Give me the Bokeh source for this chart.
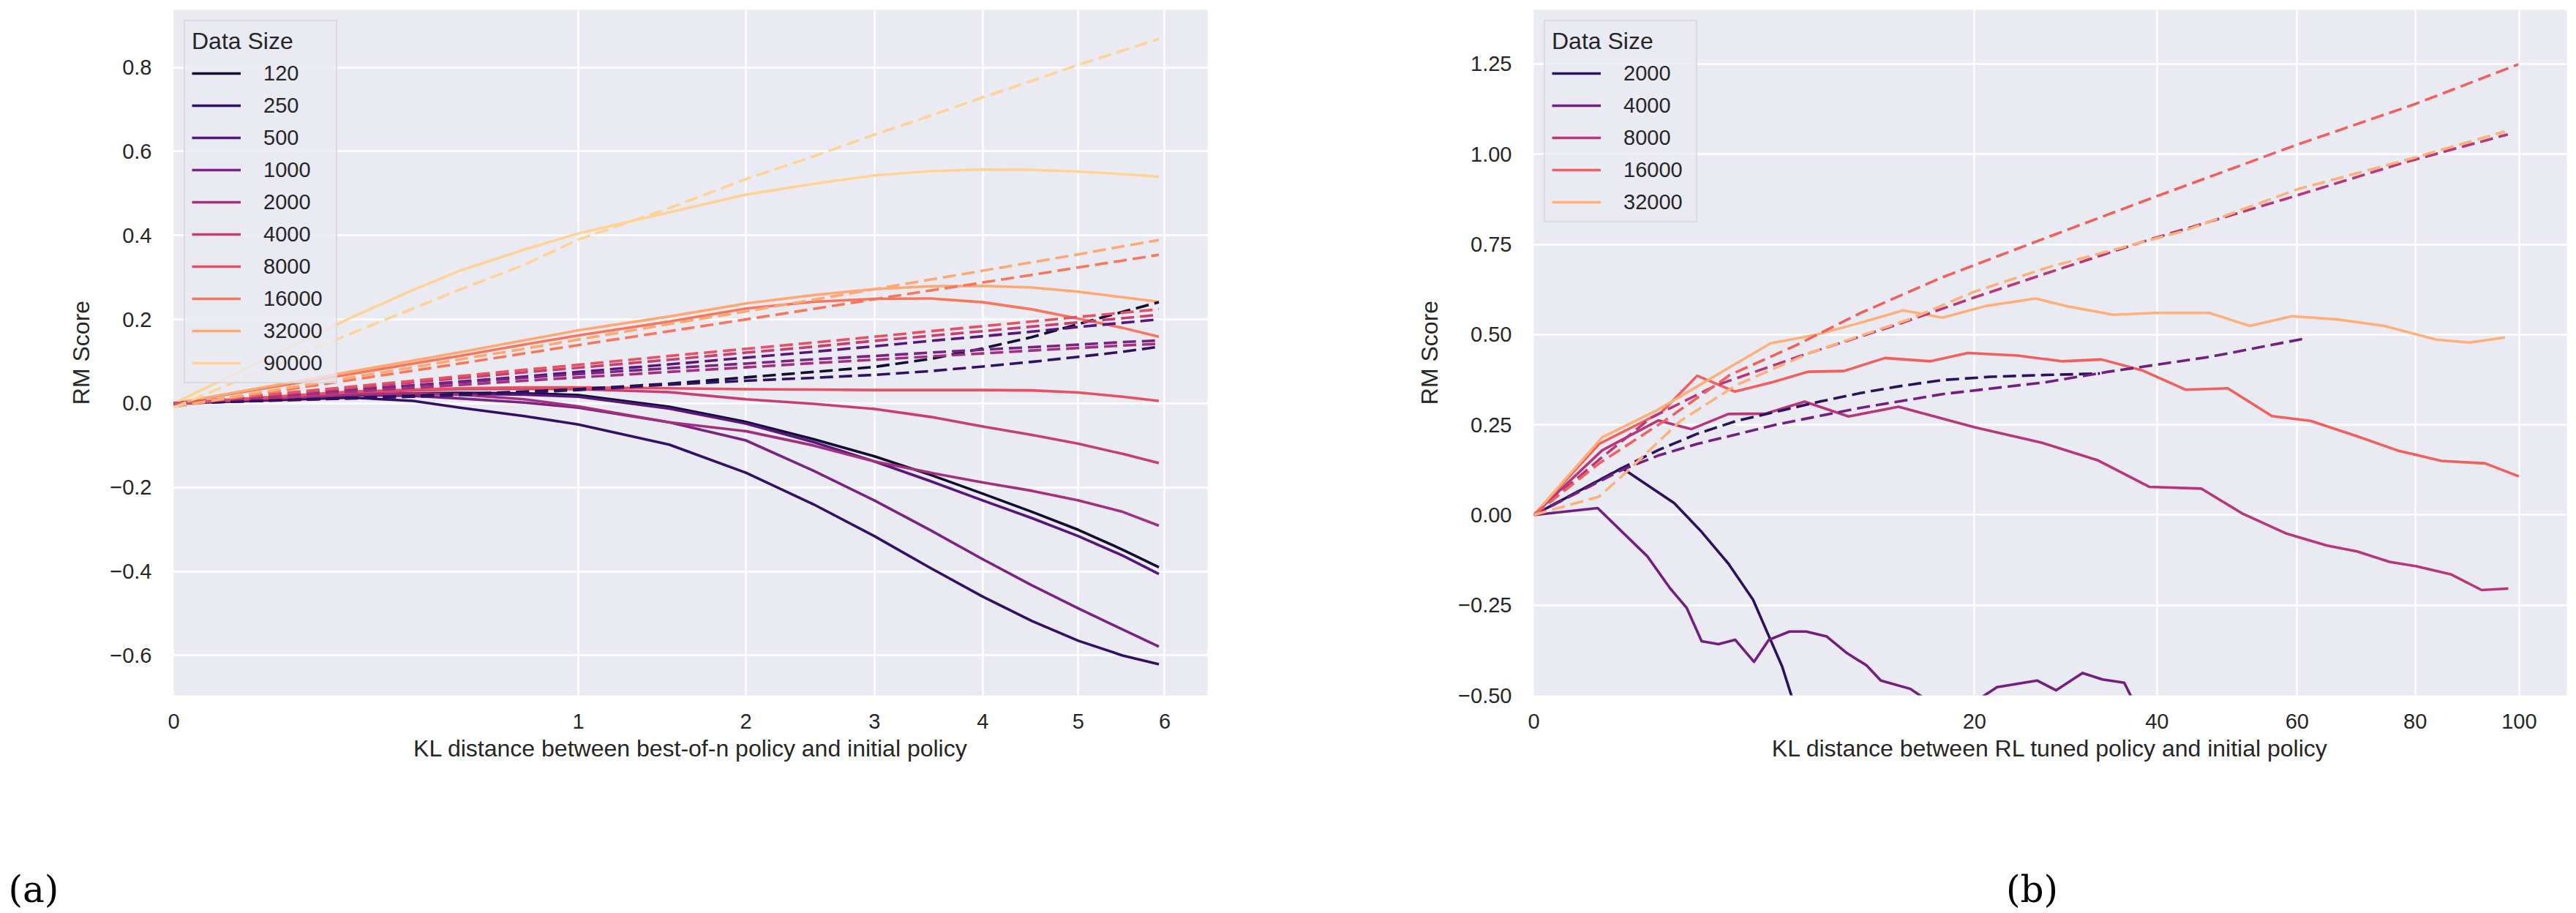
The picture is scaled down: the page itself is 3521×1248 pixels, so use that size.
import numpy as np
from bokeh.embed import file_html
from bokeh.layouts import column, row
from bokeh.models import (ColumnDataSource, CustomJSTickFormatter, CustomJSTransform,
                          FixedTicker, Label, Legend, LegendItem, Range1d)
from bokeh.plotting import figure
from bokeh.resources import INLINE
from bokeh.transform import transform

# ---------------------------------------------------------------------------
# (a) best-of-n sampling: RM score against KL(best-of-n || initial policy)
# ---------------------------------------------------------------------------
BON_SIZES = ["120", "250", "500", "1000", "2000", "4000", "8000", "16000", "32000", "90000"]
BON_COLORS = ["#120d31", "#331067", "#57157e", "#7b2382", "#a3307e",
              "#c83e73", "#e75263", "#f8765c", "#fea873", "#fed395"]
BON_KL = [0, 0.193, 0.35, 0.5, 0.75, 1.0, 1.5, 2.0, 2.5, 3.0, 3.5, 4.0, 4.5, 5.0, 5.5, 5.93]

# solid lines
BON_GOLD_120 = [0.0, 0.020, 0.024, 0.025, 0.024, 0.020, -0.008, -0.044, -0.085, -0.126, -0.170, -0.215, -0.258, -0.301, -0.348, -0.390]
BON_GOLD_250 = [0.0, 0.014, 0.006, -0.010, -0.030, -0.050, -0.098, -0.165, -0.240, -0.316, -0.392, -0.460, -0.518, -0.565, -0.600, -0.621]
BON_GOLD_500 = [0.0, 0.019, 0.022, 0.023, 0.021, 0.016, -0.012, -0.048, -0.092, -0.138, -0.185, -0.231, -0.273, -0.316, -0.362, -0.406]
BON_GOLD_1000 = [0.0, 0.020, 0.018, 0.012, 0.002, -0.010, -0.045, -0.088, -0.160, -0.231, -0.302, -0.371, -0.433, -0.488, -0.538, -0.579]
BON_GOLD_2000 = [0.0, 0.022, 0.024, 0.021, 0.010, -0.007, -0.045, -0.066, -0.100, -0.138, -0.165, -0.188, -0.208, -0.231, -0.258, -0.291]
BON_GOLD_4000 = [0.0, 0.026, 0.031, 0.034, 0.035, 0.034, 0.027, 0.010, -0.001, -0.013, -0.032, -0.055, -0.075, -0.096, -0.120, -0.142]
BON_GOLD_8000 = [0.0, 0.028, 0.033, 0.036, 0.038, 0.038, 0.036, 0.034, 0.033, 0.032, 0.032, 0.032, 0.031, 0.026, 0.016, 0.006]
BON_GOLD_16000 = [0.0, 0.070, 0.095, 0.113, 0.140, 0.162, 0.195, 0.226, 0.242, 0.249, 0.250, 0.241, 0.224, 0.202, 0.180, 0.159]
BON_GOLD_32000 = [0.0, 0.076, 0.102, 0.122, 0.150, 0.174, 0.207, 0.238, 0.258, 0.272, 0.279, 0.280, 0.276, 0.266, 0.253, 0.242]
BON_GOLD_90000 = [0.0, 0.205, 0.270, 0.316, 0.366, 0.405, 0.455, 0.497, 0.523, 0.543, 0.553, 0.557, 0.556, 0.552, 0.546, 0.540]

# dashed lines
BON_PROXY_120 = [0.0, 0.013, 0.018, 0.022, 0.028, 0.034, 0.047, 0.062, 0.075, 0.087, 0.106, 0.131, 0.158, 0.189, 0.218, 0.241]
BON_PROXY_250 = [0.0, 0.012, 0.016, 0.020, 0.026, 0.032, 0.045, 0.054, 0.061, 0.068, 0.077, 0.088, 0.099, 0.111, 0.123, 0.135]
BON_PROXY_500 = [0.0, 0.032, 0.043, 0.052, 0.064, 0.075, 0.093, 0.109, 0.123, 0.136, 0.149, 0.160, 0.171, 0.182, 0.192, 0.200]
BON_PROXY_1000 = [0.0, 0.032, 0.043, 0.050, 0.061, 0.070, 0.084, 0.095, 0.105, 0.113, 0.121, 0.128, 0.134, 0.140, 0.146, 0.150]
BON_PROXY_2000 = [0.0, 0.028, 0.037, 0.044, 0.054, 0.062, 0.075, 0.086, 0.096, 0.104, 0.112, 0.119, 0.126, 0.132, 0.138, 0.142]
BON_PROXY_4000 = [0.0, 0.037, 0.050, 0.060, 0.074, 0.085, 0.104, 0.121, 0.135, 0.149, 0.161, 0.172, 0.183, 0.193, 0.203, 0.211]
BON_PROXY_8000 = [0.0, 0.040, 0.054, 0.065, 0.080, 0.092, 0.113, 0.130, 0.145, 0.159, 0.172, 0.184, 0.195, 0.206, 0.216, 0.224]
BON_PROXY_16000 = [-0.008, 0.056, 0.078, 0.095, 0.119, 0.139, 0.172, 0.200, 0.225, 0.248, 0.269, 0.288, 0.306, 0.324, 0.340, 0.354]
BON_PROXY_32000 = [-0.008, 0.062, 0.086, 0.105, 0.130, 0.152, 0.189, 0.219, 0.247, 0.272, 0.295, 0.316, 0.336, 0.355, 0.374, 0.389]
BON_PROXY_90000 = [-0.010, 0.167, 0.226, 0.271, 0.330, 0.390, 0.465, 0.534, 0.588, 0.640, 0.685, 0.729, 0.768, 0.806, 0.840, 0.868]

BON_XTICKS = [0, 1, 2, 3, 4, 5, 6]
BON_YTICKS = [-0.6, -0.4, -0.2, 0.0, 0.2, 0.4, 0.6, 0.8]

# ---------------------------------------------------------------------------
# (b) RL tuning: RM score against KL(RL policy || initial policy)
# ---------------------------------------------------------------------------
RL_SIZES = ["2000", "4000", "8000", "16000", "32000"]
RL_COLORS = ["#2c115f", "#721f81", "#b73779", "#f1605d", "#feb078"]

# solid lines
RL_GOLD_2000_KL = [0, 0.8, 2.03, 2.9, 3.9, 4.95, 5.7, 6.35, 7.2]
RL_GOLD_2000 = [0, 0.13, 0.033, -0.047, -0.135, -0.235, -0.337, -0.42, -0.56]
RL_GOLD_4000_KL = [0, 0.42, 1.33, 1.91, 2.41, 2.9, 3.51, 4.18, 4.99, 5.69, 6.73, 7.64, 8.84,
                   10.1, 11.4, 12.4, 14.6, 18.0, 22.1, 26.1, 28.1, 31.0, 33.3, 35.9, 38.0]
RL_GOLD_4000 = [0, 0.019, -0.115, -0.203, -0.258, -0.35, -0.358, -0.346, -0.407, -0.346, -0.323, -0.323, -0.337,
                -0.383, -0.417, -0.459, -0.482, -0.56, -0.477, -0.459, -0.486, -0.438, -0.456, -0.465, -0.56]
RL_GOLD_8000_KL = [0, 0.48, 1.6, 2.55, 3.9, 5.55, 7.55, 10.2, 13.7, 20.0, 26.6, 32.7, 39.0, 45.9,
                   51.8, 58.4, 64.8, 69.8, 75.4, 80.2, 86.7, 92.5, 97.8]
RL_GOLD_8000 = [0, 0.179, 0.262, 0.238, 0.28, 0.281, 0.314, 0.273, 0.3, 0.243, 0.2, 0.152, 0.078, 0.073,
                0.003, -0.052, -0.085, -0.101, -0.13, -0.142, -0.165, -0.208, -0.204]
RL_GOLD_16000_KL = [0, 0.44, 1.67, 2.75, 4.16, 5.86, 7.75, 9.9, 12.7, 16.2, 19.4, 24.1, 28.7, 33.2,
                    38.1, 43.8, 49.6, 56.1, 62.1, 69.5, 76.8, 84.8, 93.2, 99.9]
RL_GOLD_16000 = [0, 0.197, 0.284, 0.386, 0.342, 0.368, 0.397, 0.399, 0.435, 0.426, 0.449, 0.442, 0.426, 0.431,
                 0.401, 0.347, 0.351, 0.274, 0.261, 0.22, 0.179, 0.15, 0.143, 0.107]
RL_GOLD_32000_KL = [0, 0.48, 1.56, 3.58, 5.78, 8.17, 11.2, 14.05, 17.2, 21.0, 25.9, 29.4, 34.6, 39.8,
                    47.0, 52.8, 59.2, 66.5, 74.5, 83.9, 90.2, 97.1]
RL_GOLD_32000 = [0, 0.215, 0.29, 0.394, 0.476, 0.499, 0.535, 0.567, 0.547, 0.579, 0.6, 0.578, 0.555, 0.56,
                 0.56, 0.524, 0.551, 0.542, 0.524, 0.486, 0.478, 0.492]

# dashed lines
RL_PROXY_2000_KL = [0, 0.8, 1.6, 2.75, 4.2, 6.18, 8.5, 11.0, 13.8, 17.2, 21.5, 27.0, 33.0]
RL_PROXY_2000 = [0, 0.13, 0.18, 0.225, 0.26, 0.288, 0.315, 0.338, 0.357, 0.374, 0.383, 0.388, 0.392]
RL_PROXY_4000_KL = [0, 0.8, 1.6, 2.75, 6.18, 11.0, 17.2, 27.0, 34.0, 47.0, 61.5]
RL_PROXY_4000 = [0, 0.125, 0.165, 0.197, 0.252, 0.297, 0.335, 0.368, 0.397, 0.438, 0.49]
RL_PROXY_8000_KL = [0, 0.45, 1.42, 3.45, 7.39, 13.3, 20.0, 27.2, 39.0, 58.0, 77.6, 97.7]
RL_PROXY_8000 = [0, 0.155, 0.27, 0.36, 0.442, 0.524, 0.603, 0.671, 0.763, 0.875, 0.975, 1.055]
RL_PROXY_16000_KL = [0, 0.44, 1.76, 3.96, 7.03, 11.0, 17.2, 27.2, 39.9, 60.1, 80.0, 99.8]
RL_PROXY_16000 = [0, 0.143, 0.261, 0.388, 0.469, 0.56, 0.659, 0.77, 0.883, 1.027, 1.139, 1.249]
RL_PROXY_32000_KL = [0, 0.44, 0.86, 2.22, 4.22, 7.94, 14.5, 20.0, 27.3, 43.5, 60.1, 80.0, 97.1]
RL_PROXY_32000 = [0, 0.051, 0.116, 0.261, 0.36, 0.451, 0.542, 0.619, 0.687, 0.787, 0.903, 0.991, 1.063]

RL_XTICKS = [0, 20, 40, 60, 80, 100]
RL_YTICKS = [-0.5, -0.25, 0.0, 0.25, 0.5, 0.75, 1.0, 1.25]

# ---------------------------------------------------------------------------
FONT = "Liberation Sans"
INK = "#262626"
LINE_W = 3.6
DASH = "18 8"
PANEL_H = 1130
CAPTION_H = 118

# the KL axis is drawn on a square-root scale
SQRT = CustomJSTransform(func="return Math.sqrt(x);",
                         v_func="return xs.map((v) => Math.sqrt(v));")


def make_panel(width, border_left, border_right, kl_max, y_lo, y_hi, xticks, yticks, ydigits, xlabel):
    p = figure(width=width, height=PANEL_H, title=None, toolbar_location=None, output_backend="svg",
               x_range=Range1d(0, float(np.sqrt(kl_max))), y_range=Range1d(y_lo, y_hi),
               min_border_left=border_left, min_border_right=border_right,
               min_border_top=13, min_border_bottom=PANEL_H - 950)
    p.background_fill_color = "#eaeaf2"
    p.border_fill_color = "white"
    p.outline_line_color = None

    p.xaxis.ticker = FixedTicker(ticks=[float(np.sqrt(t)) for t in xticks], minor_ticks=[])
    p.xaxis.formatter = CustomJSTickFormatter(code="return (tick * tick).toFixed(0);")
    p.yaxis.ticker = FixedTicker(ticks=yticks, minor_ticks=[])
    p.yaxis.formatter = CustomJSTickFormatter(
        code="const s = Math.abs(tick).toFixed(%d); return (tick < -1e-9 ? '\u2212' : '') + s;" % ydigits)

    for ax in (p.xaxis, p.yaxis):
        ax.axis_line_color = None
        ax.major_tick_line_color = None
        ax.minor_tick_line_color = None
        ax.major_tick_out = 0
        ax.major_tick_in = 0
        ax.minor_tick_out = 0
        ax.major_label_text_font = FONT
        ax.major_label_text_font_size = "29px"
        ax.major_label_text_color = INK
        ax.axis_label_text_font = FONT
        ax.axis_label_text_font_size = "32px"
        ax.axis_label_text_font_style = "normal"
        ax.axis_label_text_color = INK
    p.xaxis.axis_label = xlabel
    p.yaxis.axis_label = "RM Score"
    p.xaxis.major_label_standoff = 25
    p.yaxis.major_label_standoff = 30
    p.xaxis.axis_label_standoff = 6
    p.yaxis.axis_label_standoff = 18

    p.grid.grid_line_color = "white"
    p.grid.grid_line_width = 2.4
    return p


def draw(p, kl, score, color, dashed):
    src = ColumnDataSource(data=dict(kl=kl, score=score))
    return p.line(x=transform("kl", SQRT), y="score", source=src, line_color=color,
                  line_width=LINE_W, line_dash=DASH if dashed else "solid",
                  line_join="round")


def add_legend(p, items):
    lg = Legend(items=items, title="Data Size", location="top_left",
                margin=14, padding=9, spacing=10,
                glyph_width=67, glyph_height=34, label_height=34, label_width=90,
                label_standoff=31, title_standoff=8,
                label_text_font=FONT, label_text_font_size="29px", label_text_color=INK,
                title_text_font=FONT, title_text_font_size="32px", title_text_font_style="normal",
                title_text_color=INK, title_text_align="center",
                background_fill_color="#eaeaf2", background_fill_alpha=0.8,
                border_line_color="#cccccc", border_line_width=2)
    p.add_layout(lg)


# ----- panel (a) -----
pa = make_panel(1760, 237, 110, 6.53, -0.695, 0.937, BON_XTICKS, BON_YTICKS, 1,
                "KL distance between best-of-n policy and initial policy")
bon_gold = [BON_GOLD_120, BON_GOLD_250, BON_GOLD_500, BON_GOLD_1000, BON_GOLD_2000,
            BON_GOLD_4000, BON_GOLD_8000, BON_GOLD_16000, BON_GOLD_32000, BON_GOLD_90000]
bon_proxy = [BON_PROXY_120, BON_PROXY_250, BON_PROXY_500, BON_PROXY_1000, BON_PROXY_2000,
             BON_PROXY_4000, BON_PROXY_8000, BON_PROXY_16000, BON_PROXY_32000, BON_PROXY_90000]
items_a = []
for size, color, gold in zip(BON_SIZES, BON_COLORS, bon_gold):
    r = draw(pa, BON_KL, gold, color, dashed=False)
    items_a.append(LegendItem(label=size, renderers=[r]))
for color, proxy in zip(BON_COLORS, bon_proxy):
    draw(pa, BON_KL, proxy, color, dashed=True)
add_legend(pa, items_a)

# ----- panel (b) -----
pb = make_panel(1761, 336, 13, 109.9, -0.5, 1.40, RL_XTICKS, RL_YTICKS, 2,
                "KL distance between RL tuned policy and initial policy")
rl_gold = [(RL_GOLD_2000_KL, RL_GOLD_2000), (RL_GOLD_4000_KL, RL_GOLD_4000),
           (RL_GOLD_8000_KL, RL_GOLD_8000), (RL_GOLD_16000_KL, RL_GOLD_16000),
           (RL_GOLD_32000_KL, RL_GOLD_32000)]
rl_proxy = [(RL_PROXY_2000_KL, RL_PROXY_2000), (RL_PROXY_4000_KL, RL_PROXY_4000),
            (RL_PROXY_8000_KL, RL_PROXY_8000), (RL_PROXY_16000_KL, RL_PROXY_16000),
            (RL_PROXY_32000_KL, RL_PROXY_32000)]
items_b = []
for size, color, (kl, gold) in zip(RL_SIZES, RL_COLORS, rl_gold):
    r = draw(pb, kl, gold, color, dashed=False)
    items_b.append(LegendItem(label=size, renderers=[r]))
for color, (kl, proxy) in zip(RL_COLORS, rl_proxy):
    draw(pb, kl, proxy, color, dashed=True)
add_legend(pb, items_b)

# ----- strip with the sub-figure tags -----
caps = figure(width=1760 + 1761, height=CAPTION_H, title=None, toolbar_location=None,
              output_backend="svg", x_axis_location=None, y_axis_location=None,
              x_range=Range1d(0, 1), y_range=Range1d(0, 1),
              min_border=0, min_border_left=0, min_border_right=0,
              min_border_top=0, min_border_bottom=0)
caps.outline_line_color = None
caps.grid.visible = False
caps.background_fill_color = "white"
caps.border_fill_color = "white"
for tag, sx, align in (("(a)", 11, "left"), ("(b)", 2777, "center")):
    caps.add_layout(Label(x=sx, y=CAPTION_H - 85, x_units="screen", y_units="screen",
                          text=tag, text_font="DejaVu Serif", text_font_size="50px",
                          text_color="black", text_align=align, text_baseline="middle"))

layout = column(row(pa, pb), caps)
open("out.html", "w").write(file_html(layout, INLINE, title="RM score vs KL distance"))
